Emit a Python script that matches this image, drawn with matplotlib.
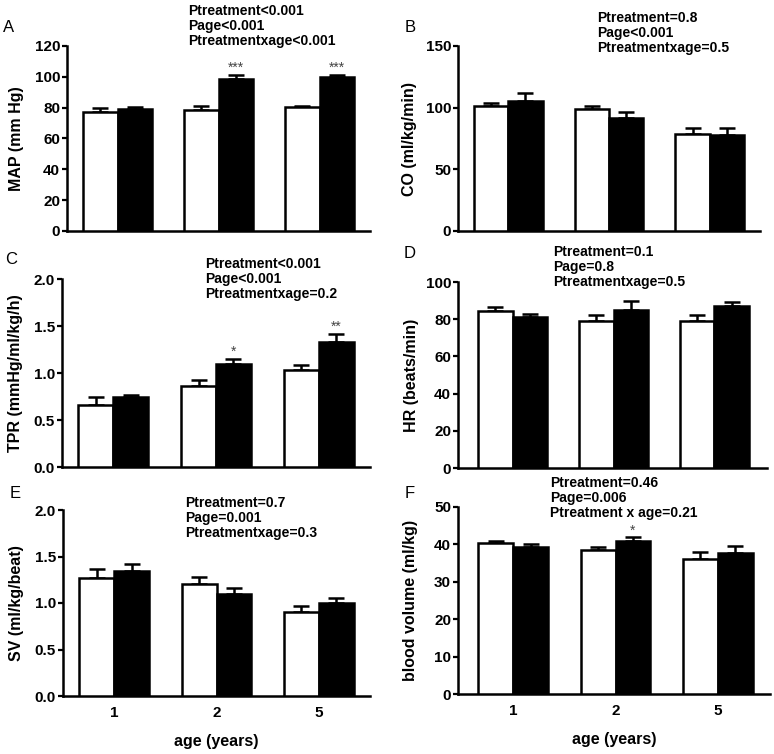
import matplotlib
matplotlib.use("Agg")
import matplotlib.pyplot as plt
import numpy as np

plt.rcParams['font.family'] = ['Liberation Sans', 'DejaVu Sans']

# data
ages = ["1", "2", "5"]

map_ctrl = [77.5, 78.5, 80.2]
map_ctrl_err = [2.0, 2.5, 1.0]
map_trt = [79.3, 98.8, 100.0]
map_trt_err = [1.2, 2.6, 1.3]

co_ctrl = [101.0, 99.0, 78.7]
co_ctrl_err = [3.0, 2.2, 4.8]
co_trt = [105.5, 91.7, 77.6]
co_trt_err = [6.0, 4.6, 5.9]

tpr_ctrl = [0.66, 0.86, 1.03]
tpr_ctrl_err = [0.08, 0.065, 0.05]
tpr_trt = [0.74, 1.096, 1.326]
tpr_trt_err = [0.03, 0.055, 0.09]

hr_ctrl = [84.4, 79.0, 79.0]
hr_ctrl_err = [2.2, 3.3, 3.3]
hr_trt = [81.2, 85.1, 87.3]
hr_trt_err = [1.8, 4.8, 1.8]

sv_ctrl = [1.265, 1.20, 0.90]
sv_ctrl_err = [0.10, 0.08, 0.065]
sv_trt = [1.344, 1.093, 1.00]
sv_trt_err = [0.08, 0.07, 0.055]

bv_ctrl = [40.5, 38.5, 36.0]
bv_ctrl_err = [0.5, 0.8, 1.9]
bv_trt = [39.3, 40.8, 37.8]
bv_trt_err = [0.9, 1.1, 1.9]

W, H = 774, 754
fig = plt.figure(figsize=(W / 100, H / 100), dpi=100)


def rect(l, t, r, b):
    return [l / W, 1 - b / H, (r - l) / W, (b - t) / H]


def panel(box, ctrl, ctrl_err, trt, trt_err, ylim, yticks, ylabel, label_px,
          fmt, stars, xlim=(-0.5, 2.5), bottom=False):
    ax = fig.add_axes(rect(*box))
    x = np.arange(len(ages))
    w = 0.34
    lw = 1.8
    ax.bar(x - w / 2, ctrl, w, color='white', edgecolor='black', linewidth=lw, zorder=3)
    ax.bar(x + w / 2, trt, w, color='black', edgecolor='black', linewidth=lw, zorder=3)
    for xs, m, e in [(x - w / 2, ctrl, ctrl_err), (x + w / 2, trt, trt_err)]:
        ax.errorbar(xs, m, yerr=[np.zeros(len(e)), e], fmt='none', ecolor='black',
                    elinewidth=1.8, capsize=6, capthick=1.8, zorder=2)
    for i, s in stars.items():
        ax.annotate(s, (x[i] + w / 2, trt[i] + trt_err[i]), xytext=(0, 0),
                    textcoords='offset points', ha='center', va='bottom',
                    fontsize=10, color='#444444')
    ax.set_xlim(*xlim)
    ax.set_ylim(*ylim)
    ax.set_yticks(yticks)
    ax.set_yticklabels([fmt.format(v) for v in yticks])
    for s in ['top', 'right']:
        ax.spines[s].set_visible(False)
    for s in ['left', 'bottom']:
        ax.spines[s].set_linewidth(1.8)
    ax.tick_params(axis='y', length=3.5, width=1.6, pad=1.5, labelsize=11)
    ax.tick_params(axis='x', length=0, pad=7, labelsize=11)
    for t in ax.get_yticklabels() + ax.get_xticklabels():
        t.set_fontweight('bold')
    ax.set_xticks(x)
    if bottom:
        ax.set_xticklabels(ages)
        ax.set_xlabel('age (years)', fontsize=11.5, fontweight='bold', labelpad=10)
    else:
        ax.set_xticklabels([])
    ax.set_ylabel(ylabel, fontsize=11.5, fontweight='bold')
    l, t, r, b = box
    ax.yaxis.set_label_coords((label_px - l) / (r - l), 0.5)
    return ax


panel((67, 46, 370, 231), map_ctrl, map_ctrl_err, map_trt, map_trt_err,
      (0, 120), [0, 20, 40, 60, 80, 100, 120], 'MAP (mm Hg)', 24, '{:.0f}',
      {1: '***', 2: '***'})
panel((458, 46, 760, 231), co_ctrl, co_ctrl_err, co_trt, co_trt_err,
      (0, 150), [0, 50, 100, 150], 'CO (ml/kg/min)', 417, '{:.0f}', {})
panel((62, 279, 370, 467), tpr_ctrl, tpr_ctrl_err, tpr_trt, tpr_trt_err,
      (0, 2.0), [0, 0.5, 1.0, 1.5, 2.0], 'TPR (mmHg/ml/kg/h)', 23, '{:.1f}',
      {1: '*', 2: '**'})
panel((458, 282, 767, 468), hr_ctrl, hr_ctrl_err, hr_trt, hr_trt_err,
      (0, 100), [0, 20, 40, 60, 80, 100], 'HR (beats/min)', 419, '{:.0f}', {},
      xlim=(-0.54, 2.52))
panel((63, 510, 370, 696), sv_ctrl, sv_ctrl_err, sv_trt, sv_trt_err,
      (0, 2.0), [0, 0.5, 1.0, 1.5, 2.0], 'SV (ml/kg/beat)', 24, '{:.1f}', {},
      bottom=True)
panel((458, 507, 770, 694), bv_ctrl, bv_ctrl_err, bv_trt, bv_trt_err,
      (0, 50), [0, 10, 20, 30, 40, 50], 'blood volume (ml/kg)', 418, '{:.0f}',
      {1: '*'}, xlim=(-0.54, 2.51), bottom=True)

# panel letters
for letter, px, py in [('A', 9, 27), ('B', 410, 28), ('C', 11, 260),
                       ('D', 410, 254), ('E', 15, 493), ('F', 410, 493)]:
    fig.text(px / W, 1 - py / H, letter, fontsize=12, ha='center', va='center')

# statistics text
stats = [
    (188, 4, "Ptreatment<0.001\nPage<0.001\nPtreatmentxage<0.001"),
    (597, 11, "Ptreatment=0.8\nPage<0.001\nPtreatmentxage=0.5"),
    (205, 257, "Ptreatment<0.001\nPage<0.001\nPtreatmentxage=0.2"),
    (553, 245, "Ptreatment=0.1\nPage=0.8\nPtreatmentxage=0.5"),
    (185, 496, "Ptreatment=0.7\nPage=0.001\nPtreatmentxage=0.3"),
    (550, 476, "Ptreatment=0.46\nPage=0.006\nPtreatment x age=0.21"),
]
for px, py, s in stats:
    fig.text(px / W, 1 - py / H, s, fontsize=10, fontweight='bold',
             ha='left', va='top', linespacing=1.1)

fig.savefig('out.png', dpi=100)
